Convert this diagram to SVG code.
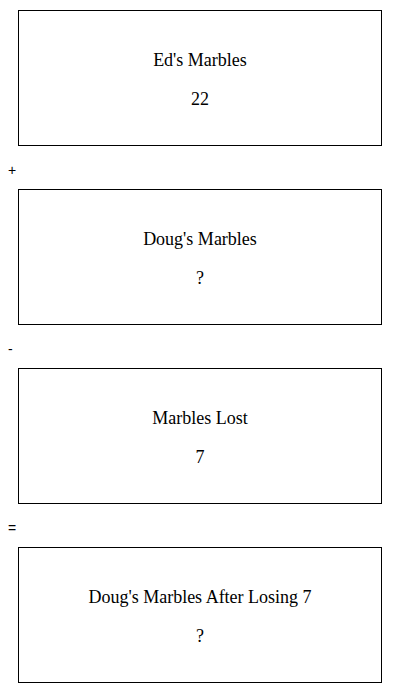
<svg xmlns="http://www.w3.org/2000/svg" width="400" height="693" viewBox="0 0 400 693">
<style>
.box{fill:#fff;stroke:#000;stroke-width:1}
.t{font-family:"Liberation Serif","Times New Roman",serif;font-size:18px;fill:#000;text-anchor:middle}
.op{font-family:"Liberation Sans",Arial,sans-serif;font-size:14px;fill:#000}
</style>
<rect width="400" height="693" fill="#fff"/>
<g id="node-eds-marbles">
<rect class="box" x="18.5" y="10.5" width="363" height="135"/>
<text class="t" x="200" y="65.5">Ed's Marbles</text>
<text class="t" x="200" y="104.5">22</text>
</g>
<g id="node-dougs-marbles">
<rect class="box" x="18.5" y="189.5" width="363" height="135"/>
<text class="t" x="200" y="244.5">Doug's Marbles</text>
<text class="t" x="200" y="283.5">?</text>
</g>
<g id="node-marbles-lost">
<rect class="box" x="18.5" y="368.5" width="363" height="135"/>
<text class="t" x="200" y="423.5">Marbles Lost</text>
<text class="t" x="200" y="462.5">7</text>
</g>
<g id="node-dougs-after">
<rect class="box" x="18.5" y="547.5" width="363" height="135"/>
<text class="t" x="200" y="602.5">Doug's Marbles After Losing 7</text>
<text class="t" x="200" y="641.5">?</text>
</g>
<g id="operators">
<text class="op" x="8" y="175">+</text>
<text class="op" x="8" y="354">-</text>
<text class="op" x="8" y="533">=</text>
</g>
</svg>
